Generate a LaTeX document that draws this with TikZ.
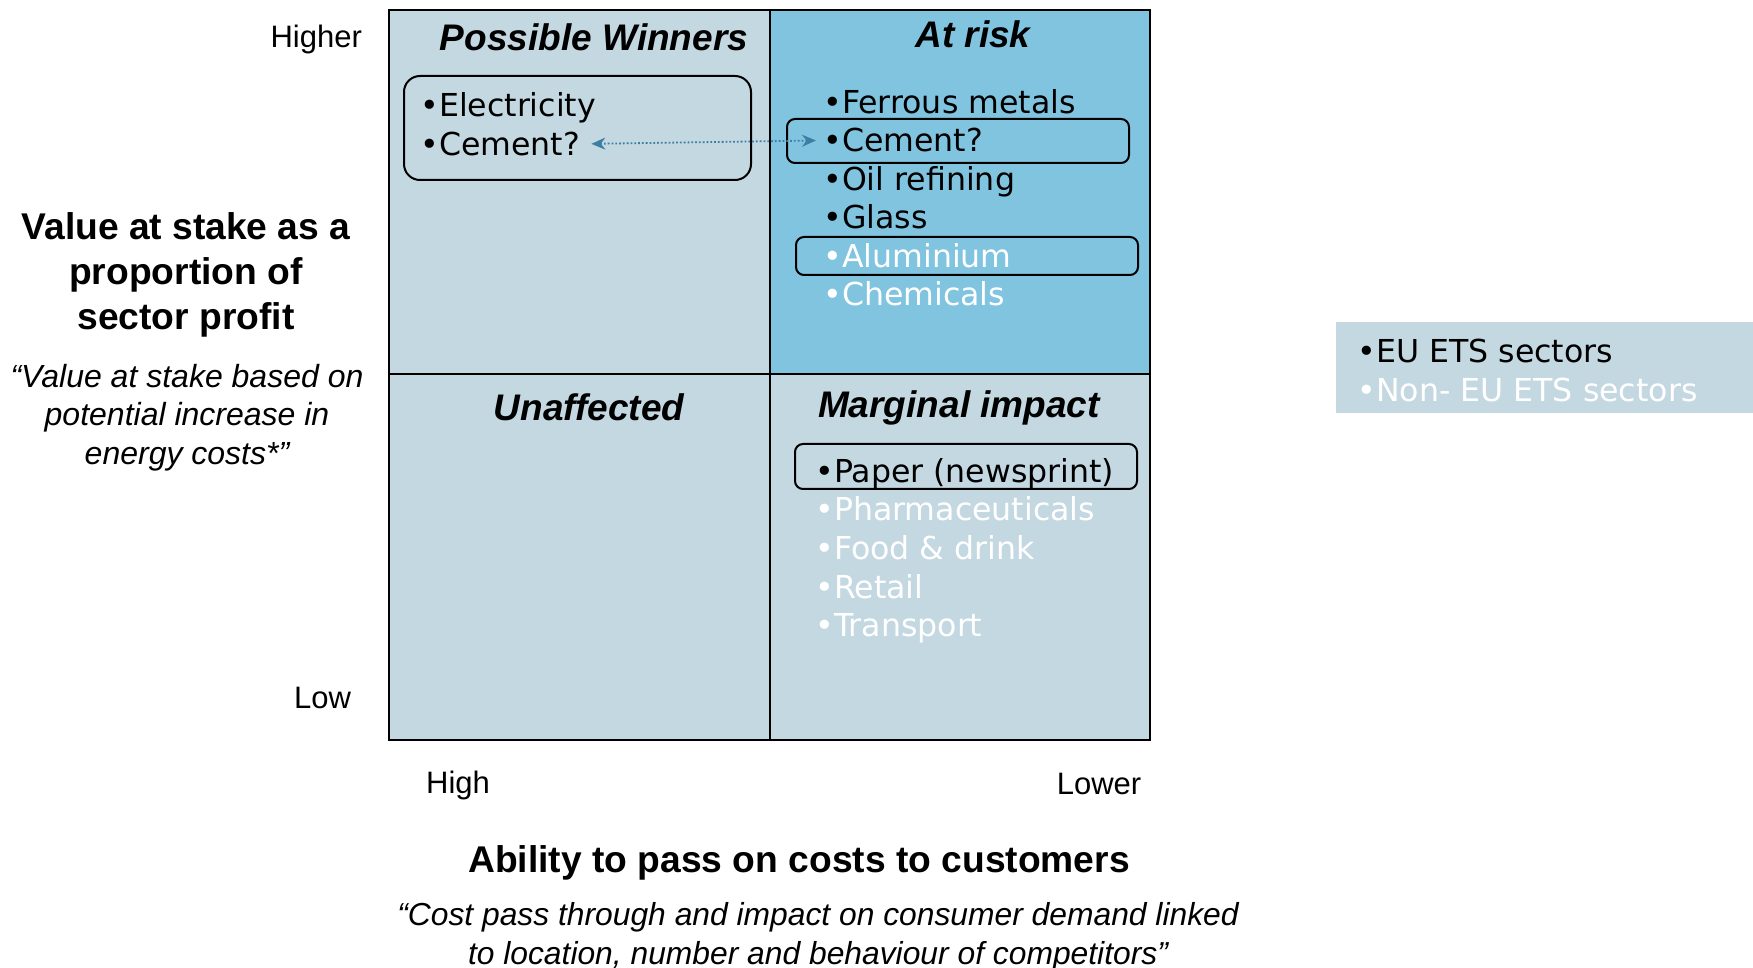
\documentclass[tikz,border=0pt]{standalone}
\usepackage{fontspec}
\setmainfont{Liberation Sans}
\newfontfamily\itemfont{DejaVu Sans}
\usetikzlibrary{arrows.meta}

\definecolor{paleblue}{HTML}{C4D8E2}
\definecolor{riskblue}{HTML}{80C4E0}
\definecolor{arrowblue}{HTML}{3D7FA3}

\tikzstyle{quad}=[draw=black, line width=1pt]
\tikzstyle{head}=[font=\fontsize{18.5}{22}\selectfont\bfseries\itshape]
\tikzstyle{sector}=[anchor=west, inner sep=0pt, font=\itemfont\fontsize{15.8}{19}\selectfont, text height=0.75em, text depth=0.2em]
\tikzstyle{hl}=[draw=black, line width=1pt, rounded corners=4pt]
\tikzstyle{axis}=[font=\fontsize{15.5}{18}\selectfont]
\tikzstyle{axistitle}=[align=center, font=\fontsize{18.6}{22.5}\selectfont\bfseries]
\tikzstyle{note}=[align=center, font=\fontsize{16}{19.3}\selectfont\itshape]
\tikzstyle{link}=[arrowblue, densely dotted, line width=0.9pt, {Stealth[length=7pt,width=6pt]}-{Stealth[length=7pt,width=6pt]}]

\begin{document}
\begin{tikzpicture}[x=0.5pt, y=-0.5pt]
\useasboundingbox (0,0) rectangle (1753,968);

% quadrants
\fill[paleblue] (389,10) rectangle (1150,740);
\fill[riskblue] (770,10) rectangle (1150,374.5);
\draw[quad] (389,10) rectangle (1150,740);
\draw[quad] (770,10) -- (770,740);
\draw[quad] (389,374.5) -- (1150,374.5);

% quadrant titles
\node[head] (winners) at (594,37) {Possible Winners};
\node[head] (risk) at (973,34) {At risk};
\node[head] (unaffected) at (589,407) {Unaffected};
\node[head] (marginal) at (959,408) {Marginal impact};

% possible winners
\draw[hl, rounded corners=8pt] (404,76) rectangle (751,180);
\node[sector] (elec) at (420,111) {•Electricity};
\node[sector] (cementL) at (420,150) {•Cement?};

% at risk
\draw[hl] (787,119) rectangle (1129,163);
\draw[hl] (796,237) rectangle (1138,275);
\foreach \name/\txt/\col [count=\i from 0] in {ferrous/Ferrous metals/black, cementR/Cement?/black, oil/Oil refining/black, glass/Glass/black, alu/Aluminium/white, chem/Chemicals/white}
  \node[sector, text=\col] (\name) at (823,108+38.4*\i) {•\txt};

\draw[link, shorten <=5.5pt, shorten >=3.5pt] ([yshift=3pt]cementL.east) -- ([yshift=3pt]cementR.west);

% marginal impact
\draw[hl] (795,444) rectangle (1137,489);
\foreach \name/\txt/\col [count=\i from 0] in {paper/Paper (newsprint)/black, pharma/Pharmaceuticals/white, food/Food \& drink/white, retail/Retail/white, transport/Transport/white}
  \node[sector, text=\col] (\name) at (815,477+38.5*\i) {•\txt};

% axes
\node[axis, anchor=east] (higher) at (369,39) {Higher};
\node[axis, anchor=east] (low) at (358,698) {Low};
\node[axis] (high) at (458,785) {High};
\node[axis] (lower) at (1099,784) {Lower};
\node[axistitle] (ytitle) at (186,275) {Value at stake as a\\proportion of\\sector profit};
\node[note] (ynote) at (187,417.5) {“Value at stake based on\\potential increase in\\energy costs*”};
\node[axistitle] (xtitle) at (799,863) {Ability to pass on costs to customers};
\node[note, font=\fontsize{15.9}{19.5}\selectfont\itshape] (xnote) at (818,937) {“Cost pass through and impact on consumer demand linked\\to location, number and behaviour of competitors”};

% legend
\fill[paleblue] (1336,322) rectangle (1753,413);
\node[sector] (ets) at (1357,357) {•EU ETS sectors};
\node[sector, text=white] (nonets) at (1357,396) {•Non- EU ETS sectors};
\end{tikzpicture}
\end{document}
